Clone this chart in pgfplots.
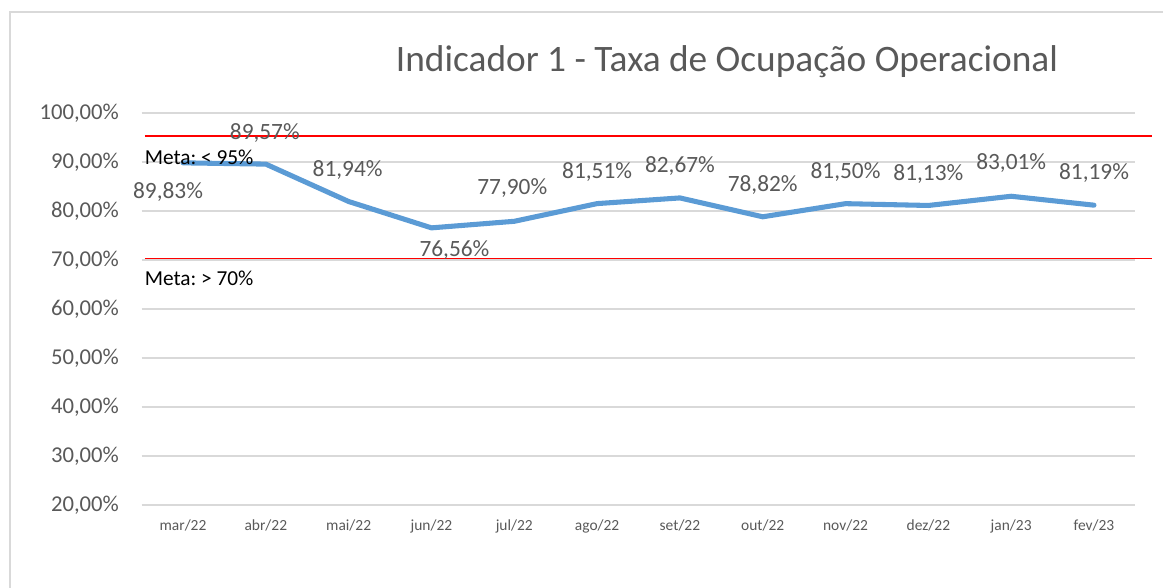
\documentclass[border=0pt]{standalone}
\usepackage{fontspec}
\setmainfont{Carlito}
\usepackage{pgfplots}
\usepackage{pgfplotstable}
\pgfplotsset{compat=1.18}
\definecolor{txt}{HTML}{595959}
\definecolor{gridc}{HTML}{D9D9D9}
\definecolor{linec}{HTML}{5B9BD5}
\definecolor{metared}{HTML}{FF0000}
\pgfplotstableread{
x y dx dy
0 89.83 -11.25 -21.75
1 89.57 -0.75 23.5
2 81.94 -0.75 23.6
3 76.56 17.25 -16.5
4 77.90 -1.5 24.75
5 81.51 0 23.7
6 82.67 0 24
7 78.82 0 24
8 81.50 0 23.7
9 81.13 0 23.6
10 83.01 0 24.75
11 81.19 0 24
}\datatable
\begin{document}
\frenchspacing
\begin{tikzpicture}
\path[use as bounding box] (0,0) rectangle (872.25pt,440.25pt);
\begin{scope}
\clip (0,0) rectangle (872.25pt,440.25pt);
\draw[gridc, line width=1.3pt] (7.5pt,-5pt) -- (7.5pt,431.25pt) -- (890pt,431.25pt);
\end{scope}
\node[text=txt, anchor=base, font=\fontsize{28}{32}\selectfont] at (545.25pt,386.25pt) {Indicador 1 - Taxa de Ocupação Operacional};
\begin{axis}[
  at={(106.2pt,61.5pt)}, anchor=south west,
  scale only axis, width=745.35pt, height=294pt,
  xmin=-0.5, xmax=11.5, ymin=20, ymax=100,
  clip=false,
  axis line style={draw=none},
  tick style={draw=none},
  major tick length=0pt,
  ytick={20,30,...,100},
  ymajorgrids,
  grid style={gridc, line width=1.1pt},
  xtick={0,...,11},
  xticklabels={mar/22,abr/22,mai/22,jun/22,jul/22,ago/22,set/22,out/22,nov/22,dez/22,jan/23,fev/23},
  /pgf/number format/assume math mode=true,
  yticklabel={\pgfmathprintnumber[fixed,fixed zerofill,precision=2,use comma]{\tick}\%},
  yticklabel style={text=txt, font=\fontsize{17}{20}\selectfont, xshift=-13.5pt},
  xticklabel style={text=txt, font=\fontsize{11.6}{14}\selectfont, yshift=-7.5pt},
]
\addplot[draw=metared, line width=1.2pt, forget plot] coordinates {(-0.46,70.3) (11.7,70.3)};
\addplot[draw=metared, line width=1.2pt, forget plot] coordinates {(-0.46,95.3) (11.7,95.3)};
\addplot[linec, line width=3.8pt, line join=round, line cap=round, mark=none,
  point meta=explicit,
  visualization depends on={\thisrow{dx} \as \dx},
  visualization depends on={\thisrow{dy} \as \dy},
  nodes near coords={\pgfmathprintnumber[fixed,fixed zerofill,precision=2,use comma]{\pgfplotspointmeta}\%},
  nodes near coords style={anchor=center, text=txt, font=\fontsize{17.5}{20}\selectfont, xshift=\dx pt, yshift=\dy pt},
] table[x=x, y=y, meta=y] {\datatable};
\node[anchor=west, inner sep=0pt, text=black, font=\fontsize{16}{19}\selectfont] at (axis cs:-0.465,91) {Meta: < 95\%};
\node[anchor=west, inner sep=0pt, text=black, font=\fontsize{16}{19}\selectfont] at (axis cs:-0.465,66.3) {Meta: > 70\%};
\end{axis}
\end{tikzpicture}
\end{document}
